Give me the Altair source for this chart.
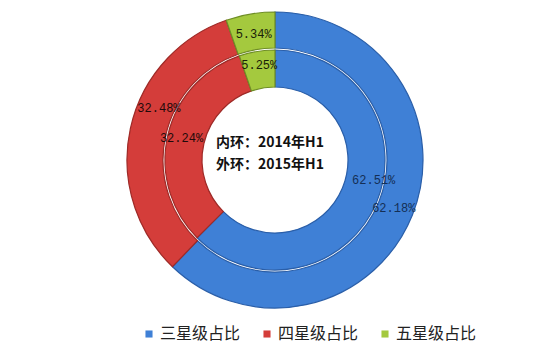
import altair as alt
import pandas as pd

categories = ["三星级占比", "四星级占比", "五星级占比"]
inner_2014 = [62.51, 32.24, 5.25]
outer_2015 = [62.18, 32.48, 5.34]
center_lines = ["内环：2014年H1", "外环：2015年H1"]

# styles
colors = ["#3F80D6", "#D43D3A", "#A4C93E"]
edge_colors = ["#2A5EA8", "#9E2A27", "#6F8E26"]
label_colors = ["#142F55", "#1E0A0A", "#1A2008"]
# small label nudges (ring, category index) -> (dx, dy), like Excel's placement
nudges = {("outer", 1): (9, -25), ("inner", 0): (10, -17)}

rows = []
for ring, vals in [("inner", inner_2014), ("outer", outer_2015)]:
    for i, (c, v) in enumerate(zip(categories, vals)):
        rows.append({"ring": ring, "cat": c, "value": v, "order": i, "idx": i,
                     "label": f"{v:.2f}%", "lc": label_colors[i],
                     "edge": edge_colors[i]})
df = pd.DataFrame(rows)

CX, CY = 275, 160
color = alt.Color("cat:N", scale=alt.Scale(domain=categories, range=colors),
                  sort=categories, title=None)

def ring_layers(ring, r_out, r_in, r_lab):
    base = alt.Chart(df).transform_filter(alt.datum.ring == ring)
    arc = base.mark_arc(radius=r_out, radius2=r_in, strokeWidth=1.2).encode(
        theta=alt.Theta("value:Q", stack=True),
        order=alt.Order("order:Q"),
        color=color,
        stroke=alt.Stroke("edge:N", scale=None),
        x=alt.value(CX), y=alt.value(CY),
    )
    texts = []
    for i in range(len(categories)):
        dx, dy = nudges.get((ring, i), (0, 0))
        t = base.mark_text(radius=r_lab, font="Liberation Mono", fontSize=12,
                           dx=dx, dy=dy).encode(
            theta=alt.Theta("value:Q", stack=True),
            order=alt.Order("order:Q"),
            text="label:N",
            color=alt.Color("lc:N", scale=None),
            opacity=alt.condition(alt.datum.idx == i, alt.value(1), alt.value(0)),
            x=alt.value(CX), y=alt.value(CY),
        )
        texts.append(t)
    return arc, texts

oa, ot = ring_layers("outer", 148, 112, 128)
ia, it = ring_layers("inner", 110, 73, 96)

def center_text(t, y):
    return alt.Chart(pd.DataFrame({"t": [t]})).mark_text(
        font="Noto Sans CJK SC", fontSize=14, fontWeight="bold", color="#111111",
        align="center", baseline="middle"
    ).encode(text="t:N", x=alt.value(270), y=alt.value(y))

c1 = center_text(center_lines[0], 143)
c2 = center_text(center_lines[1], 165)

chart = alt.layer(oa, ia, *ot, *it, c1, c2).properties(
    width=550, height=359, padding=0,
    autosize=alt.AutoSizeParams(type="none"),
).configure_view(stroke=None).configure_legend(
    orient="none", legendX=141, legendY=326, direction="horizontal",
    symbolType="square", symbolSize=50, symbolStrokeWidth=0,
    labelFont="Noto Sans CJK SC", labelFontSize=16, labelColor="#222222",
    columnPadding=18, labelOffset=3,
)

chart.save("out.html", embed_options={"renderer": "svg", "actions": False})
